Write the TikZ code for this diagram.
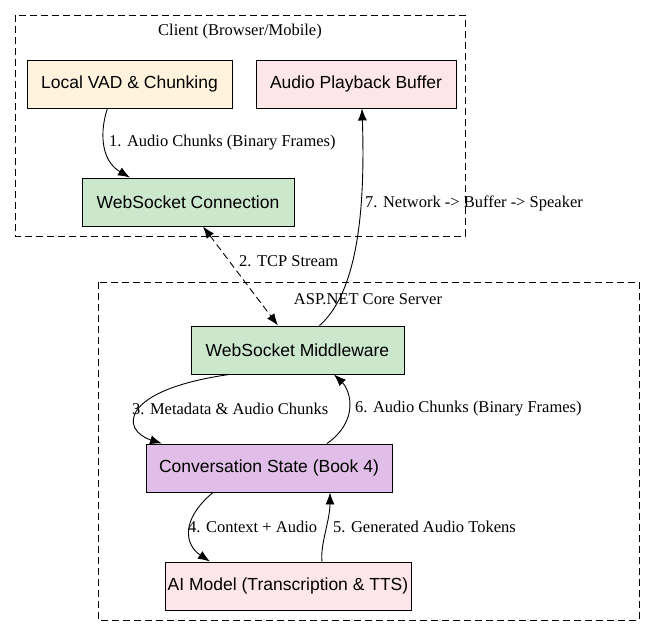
\documentclass[tikz,border=0pt]{standalone}
\usepackage{fontspec}
\setmainfont{Liberation Serif}
\newfontfamily\nodefont{Liberation Sans}
\usetikzlibrary{arrows.meta}
\definecolor{cora}{HTML}{FFF3DD}
\definecolor{cpink}{HTML}{FDE6EA}
\definecolor{cgreen}{HTML}{CBE7CC}
\definecolor{cpurp}{HTML}{E1BEE7}
\tikzset{tip/.tip={Latex[length=12pt,width=9pt]}}
\begin{document}
\begin{tikzpicture}[x=1pt,y=-1pt,
 box/.style={draw,line width=0.9pt,minimum height=48pt,inner sep=0pt,font=\nodefont\fontsize{17.5}{19}\selectfont},
 clus/.style={draw,dash pattern=on 7pt off 4pt,line width=0.9pt},
 lab/.style={font=\fontsize{16.5}{18}\selectfont,inner sep=1pt},
 arr/.style={-tip,line width=0.9pt}]
\useasboundingbox (0,0) rectangle (655,636);
\draw[clus] (15,15) rectangle (465,236);
\node[lab] at (240,32) {Client (Browser/Mobile)};
\draw[clus] (98,282) rectangle (639,620);
\node[lab] at (368,299) {ASP.NET Core Server};
\node[box,fill=cora,minimum width=205pt] (vad) at (129.5,84) {Local VAD \& Chunking};
\node[box,fill=cpink,minimum width=200pt] (play) at (356,84) {Audio Playback Buffer};
\node[box,fill=cgreen,minimum width=212pt] (wsc) at (188,202) {WebSocket Connection};
\node[box,fill=cgreen,minimum width=213pt] (mw) at (297.5,350) {WebSocket Middleware};
\node[box,fill=cpurp,minimum width=246pt] (cs) at (269,468) {Conversation State (Book 4)};
\node[box,fill=cpink,minimum width=246pt] (ai) at (288,586) {AI Model (Transcription \& TTS)};
\draw[arr] (vad.south) ++(-22,0) .. controls (100,130) and (100,160) .. (wsc.north -| 130,0);
\node[lab,anchor=west] at (108,143) {1. Audio Chunks (Binary Frames)};
\draw[line width=0.9pt,dash pattern=on 7pt off 4pt,tip-tip] (wsc.south) ++(15,0) -- (mw.north -| 278,0);
\node[lab,anchor=west] at (238,261) {2. TCP Stream};
\draw[arr] (mw.north) ++(22,0) .. controls (360,290) and (365,200) .. (play.south -| 362,0);
\node[lab,anchor=west] at (364,203) {7. Network -> Buffer -> Speaker};
\draw[arr] (mw.south) ++(-68,0) .. controls (120,390) and (120,430) .. (cs.north -| 162,0);
\node[lab,anchor=west] at (131,409) {3. Metadata \& Audio Chunks};
\draw[arr] (cs.north) ++(58,0) .. controls (360,420) and (350,390) .. (mw.south -| 334,0);
\node[lab,anchor=west] at (354,409) {6. Audio Chunks (Binary Frames)};
\draw[arr] (cs.south) ++(-56,0) .. controls (180,520) and (185,545) .. (ai.north -| 210,0);
\node[lab,anchor=west] at (187,527) {4. Context + Audio};
\draw[arr] (ai.north) ++(34,0) .. controls (320,545) and (330,520) .. (cs.south -| 330,0);
\node[lab,anchor=west] at (332,527) {5. Generated Audio Tokens};
\end{tikzpicture}
\end{document}
